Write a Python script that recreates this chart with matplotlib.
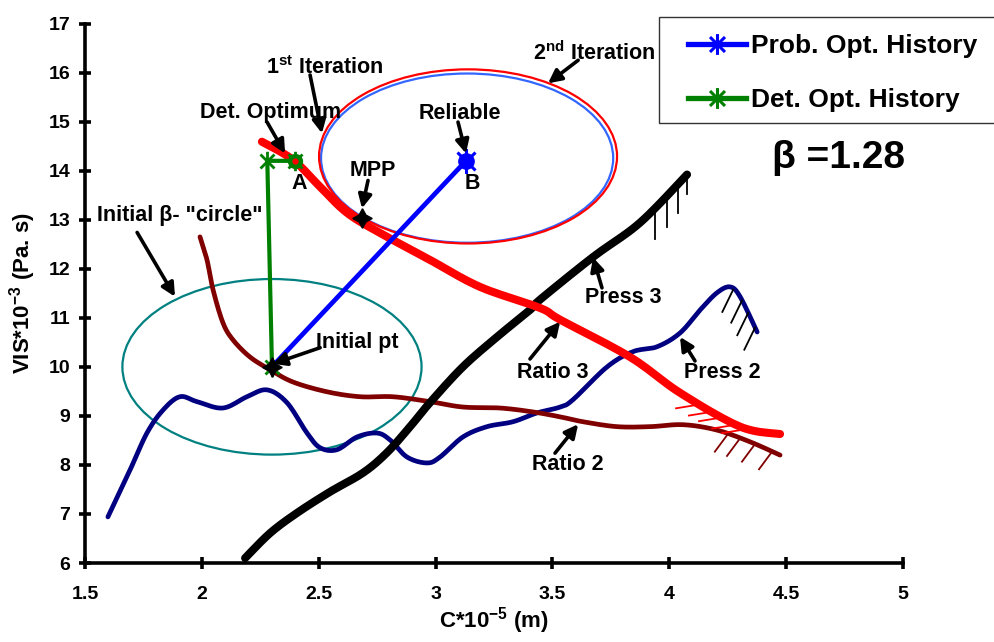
import numpy as np
import matplotlib
matplotlib.use("Agg")
import matplotlib.pyplot as plt
from matplotlib.patches import Ellipse, Rectangle
from matplotlib.path import Path
from matplotlib.lines import Line2D

plt.rcParams['font.family'] = ['Liberation Sans', 'DejaVu Sans']
plt.rcParams['font.weight'] = 'bold'
plt.rcParams['mathtext.fontset'] = 'custom'
plt.rcParams['mathtext.rm'] = 'Liberation Sans:bold'
plt.rcParams['mathtext.bf'] = 'Liberation Sans:bold'
plt.rcParams['mathtext.it'] = 'Liberation Sans:bold'

# ---------------- data ----------------
x_ticks = [1.5, 2, 2.5, 3, 3.5, 4, 4.5, 5]
x_tick_labels = ['1.5', '2', '2.5', '3', '3.5', '4', '4.5', '5']
y_ticks = list(range(6, 18))

ratio3_x = [2.257, 2.39, 2.506, 2.621, 2.762, 2.976, 3.19, 3.447, 3.533, 3.832, 4.046, 4.303, 4.474]
ratio3_y = [14.59, 14.22, 13.67, 13.14, 12.73, 12.18, 11.63, 11.2, 10.96, 10.20, 9.47, 8.78, 8.63]

press3_x = [2.185, 2.292, 2.407, 2.548, 2.69, 2.792, 2.891, 2.976, 3.117, 3.263, 3.404, 3.447, 3.674, 3.875, 4.076]
press3_y = [6.10, 6.61, 7.02, 7.45, 7.84, 8.25, 8.78, 9.27, 10.0, 10.61, 11.16, 11.37, 12.24, 12.94, 13.92]

press2_x = [1.598, 1.693, 1.765, 1.834, 1.906, 1.979, 2.09, 2.193, 2.279, 2.364, 2.45, 2.506, 2.578,
            2.664, 2.749, 2.805, 2.878, 2.963, 3.019, 3.117, 3.22, 3.331, 3.434, 3.533, 3.588, 3.734,
            3.845, 3.948, 4.046, 4.132, 4.204, 4.26, 4.303, 4.376]
press2_y = [6.94, 7.90, 8.65, 9.12, 9.39, 9.29, 9.16, 9.39, 9.53, 9.27, 8.65, 8.35, 8.31,
            8.57, 8.65, 8.51, 8.16, 8.04, 8.16, 8.57, 8.78, 8.88, 9.06, 9.18, 9.33, 10.0,
            10.31, 10.41, 10.69, 11.16, 11.51, 11.63, 11.43, 10.71]

ratio2_x = [1.992, 2.022, 2.048, 2.09, 2.133, 2.206, 2.292, 2.39, 2.536, 2.677, 2.818, 2.976, 3.117,
            3.276, 3.417, 3.533, 3.631, 3.776, 3.918, 4.059, 4.204, 4.346, 4.474]
ratio2_y = [12.65, 12.18, 11.57, 10.90, 10.55, 10.20, 9.94, 9.69, 9.49, 9.39, 9.39, 9.29, 9.18,
            9.16, 9.08, 8.98, 8.88, 8.78, 8.78, 8.82, 8.71, 8.47, 8.20]

prob_hist_x = [2.3, 3.13]
prob_hist_y = [10.0, 14.2]
det_hist_x = [2.3, 2.28, 2.4]
det_hist_y = [10.0, 14.2, 14.2]
mpp_x, mpp_y = 2.685, 13.03

# ellipses: (center x, center y, width, height)
initial_circle = (2.3, 10.0, 1.28, 3.58)
iter1_circle = (3.135, 14.255, 1.25, 3.45)
iter2_circle = (3.139, 14.29, 1.275, 3.55)

# constraint hatching (x positions on each curve)
press3_hatch_x = [3.939, 3.99, 4.037, 4.076]
press3_hatch_len = [0.65, 0.65, 0.6, 0.4]
press2_hatch_x = [4.273, 4.311, 4.337, 4.367]
ratio2_hatch_x = [4.251, 4.303, 4.367, 4.44]
ratio3_hatch_x = [4.119, 4.174, 4.217, 4.273, 4.316]


def smooth(xs, ys, n=12):
    """Catmull-Rom rendering of a smoothed line through the points (like a spreadsheet 'smoothed line')."""
    p = np.column_stack([xs, ys]).astype(float)
    p = np.vstack([p[0], p, p[-1]])
    out = []
    t = np.linspace(0, 1, n, endpoint=False)[:, None]
    for i in range(1, len(p) - 2):
        p0, p1, p2, p3 = p[i - 1], p[i], p[i + 1], p[i + 2]
        seg = 0.5 * ((2 * p1) + (-p0 + p2) * t + (2 * p0 - 5 * p1 + 4 * p2 - p3) * t ** 2
                     + (-p0 + 3 * p1 - 3 * p2 + p3) * t ** 3)
        out.append(seg)
    out.append(p[-2][None, :])
    out = np.vstack(out)
    return out[:, 0], out[:, 1]


# ---------------- figure ----------------
fig = plt.figure(figsize=(9.94, 6.42), dpi=100)
ax = fig.add_axes([85/994, 1 - 563/642, (903 - 85)/994, (563 - 23.5)/642])
ax.set_xlim(1.5, 5)
ax.set_ylim(6, 17)

for sp in ['top', 'right']:
    ax.spines[sp].set_visible(False)
for sp in ['left', 'bottom']:
    ax.spines[sp].set_linewidth(2.6)
ax.tick_params(direction='inout', length=9, width=2.6, labelsize=14)
ax.tick_params(axis='x', pad=12)
ax.tick_params(axis='y', pad=6)
ax.set_xticks(x_ticks)
ax.set_xticklabels(x_tick_labels, fontweight='bold')
ax.set_yticks(y_ticks)
ax.set_yticklabels([str(v) for v in y_ticks], fontweight='bold')
ax.set_xlabel(r'C*10$^{\mathbf{-5}}$ (m)', fontsize=16, fontweight='bold')
ax.set_ylabel(r'VIS*10$^{\mathbf{-3}}$ (Pa. s)', fontsize=16, fontweight='bold')
ax.xaxis.set_label_coords(0.5, -0.078)
ax.yaxis.set_label_coords(-0.058, 0.5)

# ellipses
for (cx, cy, w, h), col, z in [(initial_circle, '#008080', 1), (iter1_circle, '#3366FF', 2), (iter2_circle, '#FF0000', 2)]:
    ax.add_patch(Ellipse((cx, cy), w, h, fill=False, edgecolor=col, lw=1.6, zorder=z))

# curves
kw = dict(solid_capstyle='round', solid_joinstyle='round')
ax.plot(*smooth(press2_x, press2_y), color='#000080', lw=3.4, zorder=3, **kw)
ax.plot(*smooth(ratio2_x, ratio2_y), color='#800000', lw=3.4, zorder=3, **kw)
ax.plot(*smooth(press3_x, press3_y), color='black', lw=5.8, zorder=4, **kw)
ax.plot(*smooth(ratio3_x, ratio3_y), color='#FF0000', lw=5.8, zorder=4, **kw)

# hatching
for hx, L in zip(press3_hatch_x, press3_hatch_len):
    hy = np.interp(hx, press3_x, press3_y)
    ax.plot([hx, hx], [hy, hy - L], color='black', lw=1.3, zorder=3)
for hx in press2_hatch_x:
    hy = np.interp(hx, press2_x, press2_y)
    ax.plot([hx, hx - 0.046], [hy, hy - 0.45], color='black', lw=1.3, zorder=3)
for hx in ratio2_hatch_x:
    hy = np.interp(hx, ratio2_x, ratio2_y)
    ax.plot([hx, hx - 0.056], [hy, hy - 0.36], color='#800000', lw=1.3, zorder=3)
for hx in ratio3_hatch_x:
    hy = np.interp(hx, ratio3_x, ratio3_y)
    ax.plot([hx, hx - 0.09], [hy - 0.05, hy - 0.12], color='#FF0000', lw=1.3, zorder=3)

# asterisk marker
ast = Path([(0, -1), (0, 1), (-0.72, -0.72), (0.72, 0.72), (-0.72, 0.72), (0.72, -0.72)],
           [Path.MOVETO, Path.LINETO] * 3)

# optimisation histories
ax.plot(prob_hist_x, prob_hist_y, color='#0000FF', lw=3.4, zorder=5)
ax.plot(det_hist_x, det_hist_y, color='#008000', lw=3.0, zorder=5,
        marker=ast, ms=14, mec='#008000', mfc='none', mew=2)
ax.plot(prob_hist_x[-1], prob_hist_y[-1], marker='o', ms=11, color='#0000FF', zorder=6)
ax.plot(prob_hist_x[-1], prob_hist_y[-1], marker=ast, ms=18, mec='#0000FF', mfc='none', mew=2.2, zorder=6)
ax.plot(det_hist_x[-1], det_hist_y[-1], marker='o', ms=10, color='#008000', zorder=6)
ax.plot(det_hist_x[-1], det_hist_y[-1], marker='o', ms=3.5, color='#FF0000', zorder=7)
ax.plot([prob_hist_x[0], mpp_x], [prob_hist_y[0], mpp_y], ls='none', marker=(4, 1, 0), ms=14,
        color='black', zorder=7)

# annotations
def arrow(tail, tip):
    ax.annotate('', xy=tip, xytext=tail,
                arrowprops=dict(arrowstyle='-|>,head_length=0.8,head_width=0.4', lw=2.6,
                                color='black', shrinkA=0, shrinkB=0), zorder=8)

fs = 15.5
def label(x, y, s):
    ax.text(x, y, s, fontsize=fs, ha='center', va='center', fontweight='bold', zorder=9)

label(2.527, 16.11, r'1$^{\mathbf{st}}$ Iteration')
arrow((2.463, 15.95), (2.514, 14.76))
label(2.292, 15.19, 'Det. Optimum')
arrow((2.279, 14.99), (2.356, 14.35))
label(2.416, 13.74, 'A')
label(2.732, 14.0, 'MPP')
arrow((2.711, 13.80), (2.685, 13.23))
label(3.105, 15.17, 'Reliable')
arrow((3.096, 14.99), (3.13, 14.35))
label(3.156, 13.74, 'B')
label(3.678, 16.40, r'2$^{\mathbf{nd}}$ Iteration')
arrow((3.61, 16.25), (3.481, 15.78))
label(1.906, 13.09, 'Initial β- "circle"')
arrow((1.723, 12.74), (1.885, 11.43))
label(2.664, 10.49, 'Initial pt')
arrow((2.506, 10.39), (2.304, 10.06))
label(3.802, 11.41, 'Press 3')
arrow((3.712, 11.61), (3.674, 12.23))
label(3.503, 9.88, 'Ratio 3')
arrow((3.404, 10.16), (3.533, 10.92))
label(4.226, 9.88, 'Press 2')
arrow((4.11, 10.12), (4.046, 10.61))
label(3.567, 8.01, 'Ratio 2')
arrow((3.511, 8.24), (3.61, 8.83))
ax.text(4.722, 14.25, 'β =1.28', fontsize=28, ha='center', va='center', fontweight='bold')

# legend (frame drawn separately so it can run off the right edge like the reference)
fig.add_artist(Rectangle((659/994, 1 - 123/642), 345/994, 106/642, transform=fig.transFigure,
                         facecolor='white', edgecolor='#333333', lw=1.0, zorder=10))
handles = [Line2D([], [], color='#0000FF', lw=3.8, marker=ast, ms=15, mec='#0000FF', mfc='none', mew=2.2),
           Line2D([], [], color='#008000', lw=3.8, marker=ast, ms=15, mec='#008000', mfc='none', mew=2.2)]
leg = fig.legend(handles, ['Prob. Opt. History', 'Det. Opt. History'], loc='upper left',
                 bbox_to_anchor=(688/994, 1 - 34/642), bbox_transform=fig.transFigure,
                 fontsize=19, frameon=False, handlelength=2.2, borderpad=0, labelspacing=1.15,
                 handletextpad=0.2, borderaxespad=0)
leg.set_zorder(11)
for t in leg.get_texts():
    t.set_fontweight('bold')

fig.savefig('out.png', dpi=100)
